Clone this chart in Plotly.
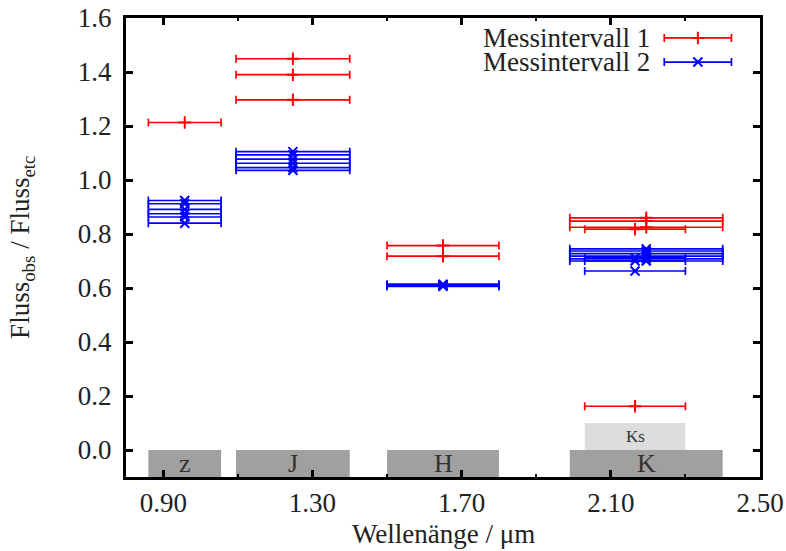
import plotly.graph_objects as go

# ---------------- data ----------------
band_names = ["z", "J", "H", "K", "Ks"]
band_lo = [0.86, 1.095, 1.50, 1.99, 2.03]
band_hi = [1.055, 1.40, 1.80, 2.40, 2.30]

s1_name = "Messintervall 1"
s1_band = ["z", "J", "J", "J", "H", "H", "K", "K", "K", "Ks", "Ks"]
s1_flux = [1.213, 1.449, 1.390, 1.297, 0.757, 0.718, 0.860, 0.848, 0.825, 0.818, 0.162]

s2_name = "Messintervall 2"
s2_band = ["z", "z", "z", "z", "z", "z",
           "J", "J", "J", "J", "J", "J",
           "H", "H", "H", "H",
           "K", "K", "K", "K", "K", "K",
           "Ks", "Ks", "Ks"]
s2_flux = [0.924, 0.912, 0.891, 0.875, 0.863, 0.840,
           1.105, 1.093, 1.077, 1.062, 1.046, 1.036,
           0.614, 0.611, 0.608, 0.606,
           0.745, 0.737, 0.727, 0.718, 0.708, 0.700,
           0.712, 0.700, 0.663]

x_tickvals = [0.90, 1.30, 1.70, 2.10, 2.50]
x_ticktext = ["0.90", "1.30", "1.70", "2.10", "2.50"]
x_minor = [1.10, 1.50, 1.90, 2.30]
y_tickvals = [0.0, 0.2, 0.4, 0.6, 0.8, 1.0, 1.2, 1.4, 1.6]

# ---------------- helpers ----------------
bc = {n: (lo + hi) / 2 for n, lo, hi in zip(band_names, band_lo, band_hi)}
bw = {n: (hi - lo) / 2 for n, lo, hi in zip(band_names, band_lo, band_hi)}

FONT = "Liberation Serif"
TXT = "#222222"
RED = "#ff0000"
BLUE = "#0000ff"
FS = 27

fig = go.Figure()

def add_series(bands, flux, color, symbol, name):
    fig.add_trace(go.Scatter(
        x=[bc[b] for b in bands], y=flux, mode="markers", name=name,
        marker=dict(symbol=symbol, size=9, color=color,
                    line=dict(color=color, width=2)),
        error_x=dict(type="data", array=[bw[b] for b in bands], symmetric=True,
                     color=color, thickness=1.7, width=4),
        showlegend=False,
    ))

add_series(s1_band, s1_flux, RED, "cross-thin", s1_name)
add_series(s2_band, s2_flux, BLUE, "x-thin", s2_name)

# band boxes
shapes = []
annotations = []
for n, lo, hi in zip(band_names, band_lo, band_hi):
    if n == "Ks":
        y0, y1, col, fs = 0.0, 0.1, "#dcdcdc", 17
    else:
        y0, y1, col, fs = -0.1, 0.0, "#a0a0a0", 26
    shapes.append(dict(type="rect", xref="x", yref="y", x0=lo, x1=hi, y0=y0, y1=y1,
                       fillcolor=col, line=dict(width=0), layer="below"))
    annotations.append(dict(x=(lo + hi) / 2, y=(y0 + y1) / 2, xref="x", yref="y",
                            text=n, showarrow=False,
                            font=dict(family=FONT, size=fs, color="#333333")))

# legend (manual): text + sample with error bar on an overlay paper-like axis
leg_y = [0.9565, 0.904]
leg_names = [s1_name, s2_name]
leg_cols = [RED, BLUE]
leg_syms = ["cross-thin", "x-thin"]
for yy, nm, c, sy in zip(leg_y, leg_names, leg_cols, leg_syms):
    annotations.append(dict(x=0.829, y=yy, xref="paper", yref="paper", text=nm,
                            showarrow=False, xanchor="right", yanchor="middle",
                            font=dict(family=FONT, size=FS, color=TXT)))
    fig.add_trace(go.Scatter(
        x=[0.902], y=[yy], xaxis="x2", yaxis="y2", mode="markers", showlegend=False,
        marker=dict(symbol=sy, size=9, color=c, line=dict(color=c, width=2)),
        error_x=dict(type="constant", value=0.053, color=c, thickness=1.7, width=4),
        hoverinfo="skip",
    ))

# axis titles
annotations.append(dict(x=0.5, y=-0.124, xref="paper", yref="paper",
                        text="Wellenänge / μm", showarrow=False, yanchor="middle",
                        font=dict(family=FONT, size=FS, color=TXT)))
annotations.append(dict(x=-0.165, y=0.5, xref="paper", yref="paper",
                        text="Fluss<sub>obs</sub> / Fluss<sub>etc</sub>", showarrow=False,
                        textangle=-90, xanchor="center",
                        font=dict(family=FONT, size=FS, color=TXT)))

axis_common = dict(showgrid=False, zeroline=False, showline=True, linecolor="black",
                   linewidth=3, mirror="ticks", ticks="inside", ticklen=7,
                   tickwidth=2.5, tickcolor="black", automargin=False,
                   tickfont=dict(family=FONT, size=FS, color=TXT))

fig.update_layout(
    width=786, height=551,
    margin=dict(l=126, r=26, t=18, b=74),
    paper_bgcolor="white", plot_bgcolor="white",
    showlegend=False,
    shapes=shapes, annotations=annotations,
    xaxis=dict(range=[0.80, 2.50], tickvals=x_tickvals, ticktext=x_ticktext,
               minor=dict(tickvals=x_minor, ticks="inside", ticklen=3,
                          tickwidth=2, tickcolor="black"),
               ticklabelstandoff=0, **axis_common),
    yaxis=dict(range=[-0.1, 1.6], tickvals=y_tickvals, tickformat=".1f",
               ticklabelstandoff=6, **axis_common),
    xaxis2=dict(overlaying="x", range=[0, 1], visible=False),
    yaxis2=dict(overlaying="y", range=[0, 1], visible=False),
)

fig.write_html("out.html")
